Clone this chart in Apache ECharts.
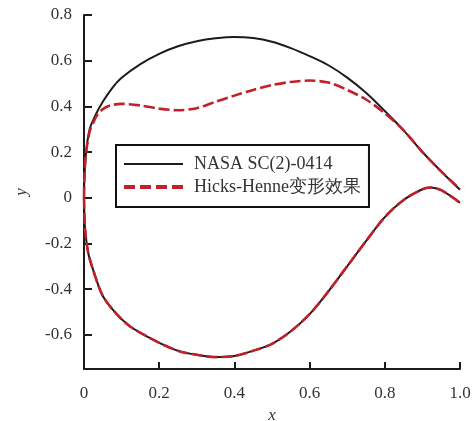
<!DOCTYPE html>
<html><head><meta charset="utf-8">
<script src="https://cdn.jsdelivr.net/npm/echarts@6/dist/echarts.min.js"></script>
<style>html,body{margin:0;padding:0;background:#fff}#c{width:476px;height:421px}</style>
</head><body><div id="c"></div>
<script>
// Upper surface, original NASA SC(2)-0414
const xUpperBase = [0, 0.001, 0.005, 0.015, 0.03, 0.05, 0.075, 0.1, 0.15, 0.2, 0.25, 0.3, 0.35, 0.4, 0.45, 0.5, 0.55, 0.6, 0.65, 0.7, 0.75, 0.8, 0.85, 0.9, 0.95, 1.0];
const yUpperBase = [0, 0.08, 0.19, 0.30, 0.36, 0.42, 0.48, 0.525, 0.585, 0.63, 0.663, 0.685, 0.698, 0.704, 0.699, 0.683, 0.655, 0.62, 0.58, 0.526, 0.46, 0.38, 0.295, 0.20, 0.115, 0.035];
// Upper surface, Hicks-Henne deformed
const xUpperHH = [0, 0.001, 0.005, 0.015, 0.025, 0.035, 0.05, 0.07, 0.1, 0.15, 0.2, 0.25, 0.3, 0.35, 0.4, 0.45, 0.5, 0.55, 0.6, 0.65, 0.7, 0.75, 0.8, 0.85, 0.9, 0.95, 1.0];
const yUpperHH = [0, 0.08, 0.19, 0.29, 0.33, 0.362, 0.388, 0.404, 0.411, 0.404, 0.39, 0.383, 0.392, 0.42, 0.447, 0.472, 0.493, 0.507, 0.513, 0.504, 0.472, 0.43, 0.37, 0.295, 0.20, 0.115, 0.037];
// Lower surface (identical for both)
const xLower = [0, 0.001, 0.003, 0.011, 0.024, 0.05, 0.087, 0.122, 0.167, 0.21, 0.255, 0.3, 0.35, 0.4, 0.45, 0.5, 0.55, 0.6, 0.65, 0.7, 0.75, 0.8, 0.85, 0.9, 0.92, 0.95, 1.0];
const yLowerBase = [0, -0.07, -0.14, -0.24, -0.315, -0.43, -0.51, -0.563, -0.607, -0.643, -0.673, -0.688, -0.698, -0.693, -0.67, -0.64, -0.585, -0.51, -0.41, -0.30, -0.19, -0.085, -0.01, 0.037, 0.045, 0.033, -0.022];
const yLowerHH = [0, -0.07, -0.14, -0.24, -0.315, -0.43, -0.51, -0.563, -0.607, -0.643, -0.673, -0.688, -0.698, -0.693, -0.67, -0.64, -0.585, -0.51, -0.41, -0.30, -0.19, -0.085, -0.01, 0.037, 0.045, 0.033, -0.022];
const xTicks = [0, 0.2, 0.4, 0.6, 0.8, 1.0];
const yTicks = [-0.6, -0.4, -0.2, 0, 0.2, 0.4, 0.6, 0.8];
const seriesNames = ['NASA SC(2)-0414', 'Hicks-Henne变形效果'];

const zip = (xs, ys) => xs.map((x, i) => [x, ys[i]]);
const fmt = v => (Math.abs(v) < 1e-9 ? '0' : v.toFixed(1));
const FONT = 'Liberation Serif';
const BLACK = '#1c1c1c', RED = '#c1202a';

function line(name, data, style, z) {
  return {
    name, type: 'line', symbol: 'none', showSymbol: false, smooth: 0.3,
    data, lineStyle: style, itemStyle: {color: style.color}, z
  };
}
const blackStyle = {color: BLACK, width: 2};
const redStyle = {color: RED, width: 2.6, type: [11, 4]};

const chart = echarts.init(document.getElementById('c'), null, {renderer: 'canvas'});
chart.setOption({
  backgroundColor: '#fff',
  animation: false,
  grid: {left: 84, right: 16, top: 15, bottom: 52, containLabel: false, outerBoundsMode: 'none'},
  legend: {
    left: 116, top: 145, orient: 'vertical',
    padding: [10, 8, 11, 6], itemGap: 5, itemWidth: 59, itemHeight: 15,
    borderColor: '#111', borderWidth: 2, backgroundColor: '#fff',
    itemStyle: {opacity: 0, borderWidth: 0},
    textStyle: {fontFamily: FONT, fontSize: 18, color: '#333', padding: [0, 0, 0, 6]},
    data: [
      {name: seriesNames[0], lineStyle: {width: 2, opacity: 1}},
      {name: seriesNames[1], lineStyle: {width: 4, type: [11, 5], opacity: 1}}
    ]
  },
  xAxis: {
    type: 'value', min: 0, max: 1, interval: 0.2,
    name: 'x', nameLocation: 'middle', nameGap: 36,
    nameTextStyle: {fontFamily: FONT, fontStyle: 'italic', fontSize: 17, color: '#333'},
    axisLine: {onZero: false, lineStyle: {color: BLACK, width: 2}},
    axisTick: {inside: true, length: 7, lineStyle: {color: BLACK, width: 2}, customValues: xTicks},
    axisLabel: {fontFamily: FONT, fontSize: 17, color: '#333', margin: 16, formatter: fmt, customValues: xTicks},
    splitLine: {show: false}
  },
  yAxis: {
    type: 'value', min: -0.75, max: 0.8,
    name: 'y', nameLocation: 'middle', nameGap: 54,
    nameTextStyle: {fontFamily: FONT, fontStyle: 'italic', fontSize: 17, color: '#333'},
    axisLine: {show: true, onZero: false, lineStyle: {color: BLACK, width: 2}},
    axisTick: {show: true, inside: true, length: 8, lineStyle: {color: BLACK, width: 2}, customValues: yTicks},
    axisLabel: {fontFamily: FONT, fontSize: 17, color: '#333', margin: 12, formatter: fmt, customValues: yTicks},
    splitLine: {show: false}
  },
  series: [
    line(seriesNames[0], zip(xUpperBase, yUpperBase), blackStyle, 2),
    line(seriesNames[0], zip(xLower, yLowerBase), blackStyle, 2),
    line(seriesNames[1], zip(xUpperHH, yUpperHH), redStyle, 3),
    line(seriesNames[1], zip(xLower, yLowerHH), redStyle, 3)
  ]
});
</script></body></html>
